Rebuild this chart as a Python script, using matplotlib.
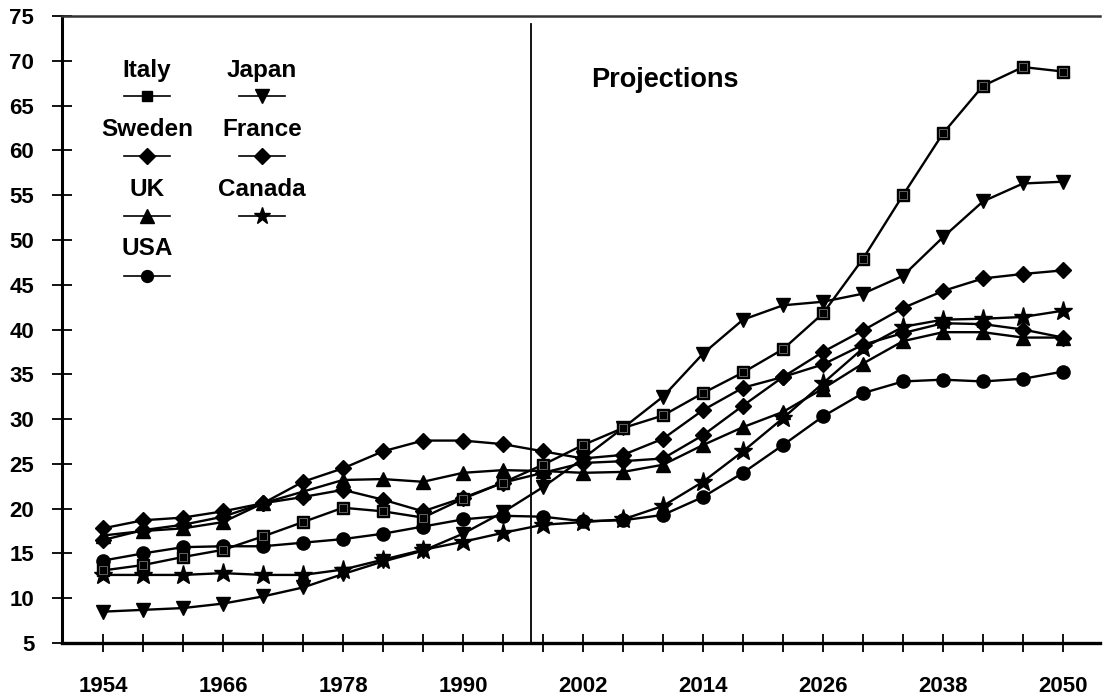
import matplotlib
matplotlib.use("Agg")
import matplotlib.pyplot as plt

plt.rcParams["font.family"] = ["Liberation Sans", "DejaVu Sans"]
plt.rcParams["font.weight"] = "bold"

years = list(range(1954, 2051, 4))
tick_years = [1954, 1966, 1978, 1990, 2002, 2014, 2026, 2038, 2050]

italy = [13.1, 13.7, 14.6, 15.4, 16.9, 18.5, 20.1, 19.7, 19.0, 21.1, 22.9, 24.9, 27.1,
         29.0, 30.4, 32.9, 35.2, 37.8, 41.8, 47.9, 55.0, 61.9, 67.2, 69.3, 68.8]
japan = [8.5, 8.7, 8.9, 9.4, 10.2, 11.2, 12.7, 14.1, 15.3, 17.2, 19.6, 22.4, 25.6,
         29.0, 32.5, 37.3, 41.1, 42.7, 43.1, 44.0, 46.0, 50.3, 54.3, 56.3, 56.5]
sweden = [17.8, 18.7, 19.0, 19.7, 20.6, 23.0, 24.5, 26.4, 27.6, 27.6, 27.2, 26.4, 25.6,
          26.0, 27.8, 31.0, 33.5, 34.7, 36.1, 38.3, 39.6, 40.7, 40.6, 40.0, 39.1]
france = [16.5, 17.6, 18.2, 19.1, 20.6, 21.3, 22.1, 21.0, 19.7, 21.2, 22.9, 24.0, 25.1,
          25.3, 25.6, 28.2, 31.5, 34.7, 37.5, 39.9, 42.4, 44.3, 45.7, 46.2, 46.6]
uk = [17.0, 17.5, 17.8, 18.5, 20.6, 21.9, 23.2, 23.3, 23.0, 24.0, 24.3, 24.2, 24.0,
      24.1, 24.9, 27.1, 29.1, 30.8, 33.4, 36.2, 38.7, 39.7, 39.7, 39.1, 39.1]
canada = [12.6, 12.6, 12.6, 12.8, 12.6, 12.6, 13.2, 14.3, 15.4, 16.3, 17.3, 18.2, 18.5,
          18.8, 20.3, 23.0, 26.4, 30.1, 34.0, 37.9, 40.3, 41.1, 41.2, 41.4, 42.1]
usa = [14.2, 15.0, 15.7, 15.8, 15.8, 16.2, 16.6, 17.2, 18.0, 18.8, 19.2, 19.1, 18.6,
       18.7, 19.3, 21.3, 24.0, 27.1, 30.3, 32.9, 34.2, 34.4, 34.2, 34.5, 35.3]

projection_start = 1996.8

# (label, values, marker, marker size, legend column, legend row)
series = [
    ("Italy", italy, "s", 8.5, 0, 0),
    ("Japan", japan, "v", 10.5, 1, 0),
    ("Sweden", sweden, "D", 8.5, 0, 1),
    ("France", france, "D", 8.5, 1, 1),
    ("UK", uk, "^", 10.5, 0, 2),
    ("Canada", canada, "*", 14, 1, 2),
    ("USA", usa, "o", 9.5, 0, 3),
]


def draw_series(ax):
    for label, values, marker, size, _, _ in series:
        ax.plot(years, values, color="black", linewidth=1.7, marker=marker,
                markersize=size, markerfacecolor="black", markeredgecolor="black",
                zorder=3)
    # faint inner rim on the Italy squares
    ax.plot(years, italy, linestyle="none", marker="s", markersize=6,
            markerfacecolor="none", markeredgecolor="#8a8a8a",
            markeredgewidth=0.5, zorder=4)


def draw_legend(ax):
    """Labels sit above a short line sample, in two columns."""
    def to_ax(px, py):
        return (px - 62) / (1100 - 62), (643 - py) / (643 - 16)

    col_x = [147, 262]
    for label, values, marker, size, col, row in series:
        cx = col_x[col]
        tx, ty = to_ax(cx, 70 + row * 59.5)
        ax.text(tx, ty, label, transform=ax.transAxes, ha="center", va="center",
                fontsize=17.5, fontweight="bold")
        x0, hy = to_ax(cx - 23, 96 + row * 60)
        x1, _ = to_ax(cx + 23, 96 + row * 60)
        ax.plot([x0, x1], [hy, hy], color="black", linewidth=1.2,
                transform=ax.transAxes, clip_on=False)
        ax.plot([(x0 + x1) / 2], [hy], marker=marker, markersize=size * 0.9,
                color="black", transform=ax.transAxes, clip_on=False)


def main():
    fig = plt.figure(figsize=(11.03, 7.0), dpi=100)
    ax = fig.add_axes([62 / 1103, 1 - 643 / 700, (1100 - 62) / 1103, (643 - 16) / 700])

    draw_series(ax)

    ax.axvline(projection_start, ymin=0, ymax=0.987, color="black", linewidth=1.3)
    ax.text(2010.2, 67.8, "Projections", ha="center", va="center",
            fontsize=19.5, fontweight="bold")

    draw_legend(ax)

    ax.set_xlim(1949.9, 2053.7)
    ax.set_ylim(5, 75)
    ax.set_xticks(years)
    ax.set_xticklabels([str(y) if y in tick_years else "" for y in years])
    ax.set_yticks(range(5, 76, 5))

    ax.tick_params(axis="x", direction="inout", length=13, width=1.3, pad=17,
                   labelsize=16)
    ax.tick_params(axis="y", direction="inout", length=14, width=1.3, pad=13,
                   labelsize=16)
    for lab in ax.get_xticklabels() + ax.get_yticklabels():
        lab.set_fontweight("bold")

    ax.spines["right"].set_visible(False)
    ax.spines["left"].set_linewidth(2.2)
    ax.spines["bottom"].set_linewidth(2.4)
    ax.spines["top"].set_linewidth(1.8)
    ax.spines["top"].set_color("#333333")

    fig.savefig("out.png", dpi=100)


if __name__ == "__main__":
    main()
